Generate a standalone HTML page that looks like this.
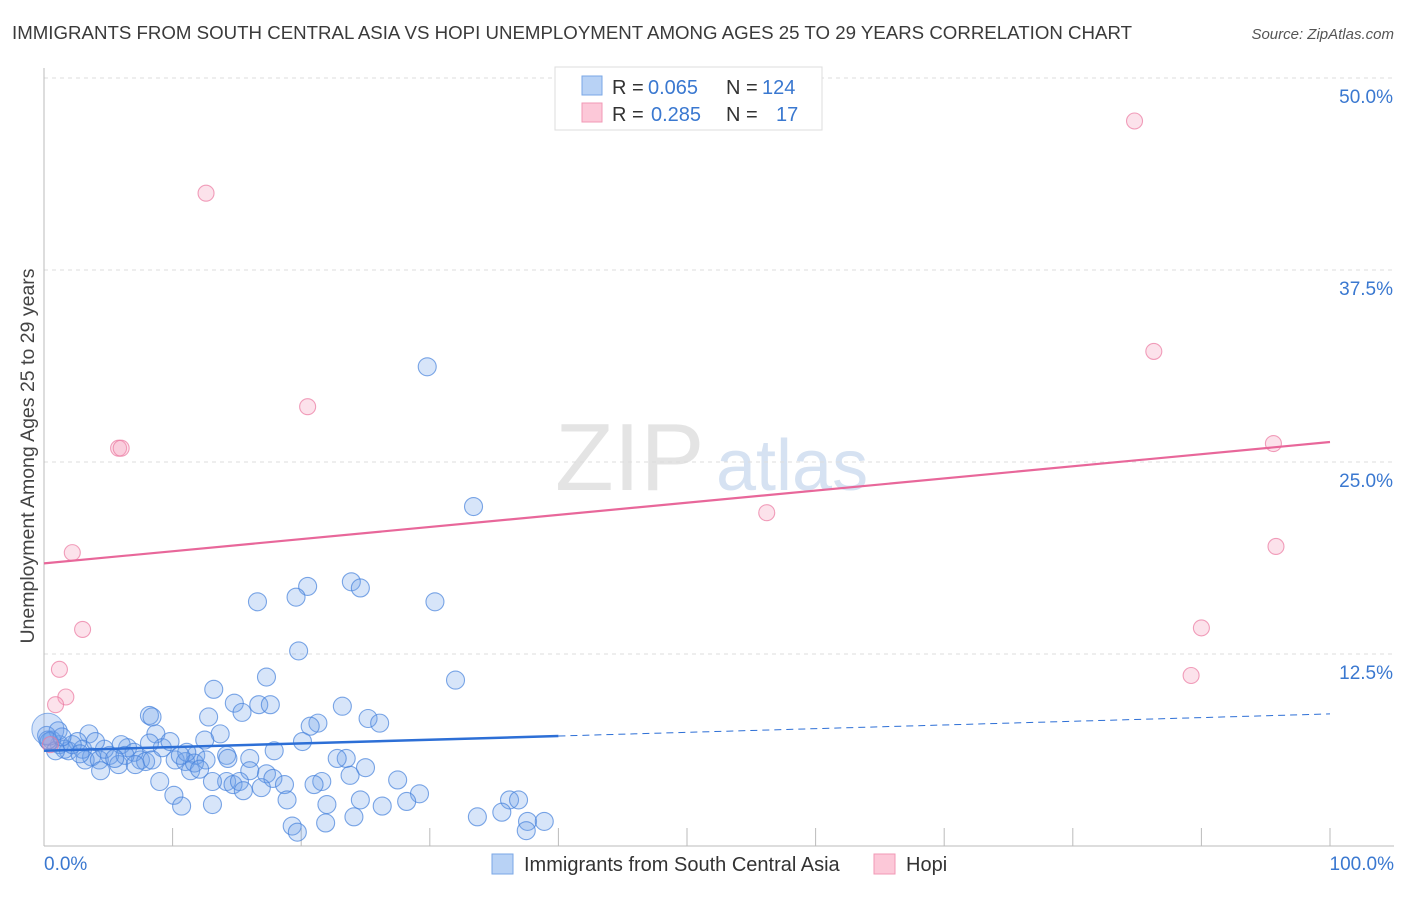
<!DOCTYPE html>
<html><head><meta charset="utf-8"><style>
body{margin:0;background:#fff;font-family:"Liberation Sans",sans-serif;}
svg text{font-family:"Liberation Sans",sans-serif;}
</style></head><body>
<svg id="chart" width="1406" height="892" xmlns="http://www.w3.org/2000/svg">
<text x="12" y="39" font-size="18.6" fill="#3a3a3a" textLength="1120" lengthAdjust="spacingAndGlyphs">IMMIGRANTS FROM SOUTH CENTRAL ASIA VS HOPI UNEMPLOYMENT AMONG AGES 25 TO 29 YEARS CORRELATION CHART</text>
<text x="1394" y="39" font-size="15" fill="#555" text-anchor="end" font-style="italic">Source: ZipAtlas.com</text>
<text x="555" y="490" font-size="96" fill="#e4e4e4" font-family="Liberation Serif">ZIP</text>
<text x="716" y="490" font-size="72" fill="#d6e2f2">atlas</text>
<g id="grid"></g>
<g id="axes"></g>
<g id="marks"></g>
<text transform="translate(34,456) rotate(-90)" font-size="19.5" fill="#444" text-anchor="middle">Unemployment Among Ages 25 to 29 years</text>
<g>
<rect x="555" y="67" width="267" height="63" fill="#fff" stroke="#ddd"/>
<rect x="582" y="76" width="20" height="19" fill="#b8d2f5" stroke="#7aa7e6"/>
<rect x="582" y="103" width="20" height="19" fill="#fcc8d8" stroke="#f298b6"/>
<text x="612" y="94" font-size="20" fill="#333">R =</text>
<text x="648" y="94" font-size="20" fill="#3a78d0">0.065</text>
<text x="726" y="94" font-size="20" fill="#333">N =</text>
<text x="762" y="94" font-size="20" fill="#3a78d0">124</text>
<text x="612" y="121" font-size="20" fill="#333">R =</text>
<text x="651" y="121" font-size="20" fill="#3a78d0">0.285</text>
<text x="726" y="121" font-size="20" fill="#333">N =</text>
<text x="776" y="121" font-size="20" fill="#3a78d0">17</text>
</g>
<g>
<rect x="492" y="854" width="21" height="20" fill="#b8d2f5" stroke="#7aa7e6"/>
<text x="524" y="871" font-size="20" fill="#333">Immigrants from South Central Asia</text>
<rect x="874" y="854" width="21" height="20" fill="#fcc8d8" stroke="#f298b6"/>
<text x="906" y="871" font-size="20" fill="#333">Hopi</text>
</g>
</svg>
<script>
const yTicks=[12.5,25,37.5,50];
const yTickLabels=["12.5%","25.0%","37.5%","50.0%"];
const xTickLabels=["0.0%","100.0%"];
const blueX=[29.8,33.4,23.9,24.6,20.5,19.6,16.6,30.4,19.8,17.3,32,13.2,14.8,12.8,8.2,8.4,16.7,17.6,23.2,15.4,25.2,26.1,13.7,21.3,20.7,3.5,8.7,12.5,20.1,17.9,16,14.2,23.5,22.8,11.8,10.2,11,25,23.8,21.6,21,17.3,17.8,16,11.4,11.7,14.2,14.7,15.2,16.9,18.7,27.5,10.1,13.1,15.5,29.2,28.2,24.6,10.7,13.1,18.9,22,26.3,36.2,36.9,35.6,33.7,24.1,21.9,19.3,19.7,37.6,38.9,37.5,7.5,5.1,5.8,6.5,3.7,1.2,1.9,2.6,0.6,1.1,1.6,3.2,4.3,6,7,9.2,11.1,9.8,14.3,12.6,3,4.7,4,7.9,4.4,6.3,9,5.5,0.2,0.4,0.9,2.2,7.1,8.4,10.6,12.1,8.2,0.3,1.4,2.8];
const blueY=[31.2,22.1,17.2,16.8,16.9,16.2,15.9,15.9,12.7,11,10.8,10.2,9.3,8.4,8.5,8.4,9.2,9.2,9.1,8.7,8.3,8,7.3,8,7.8,7.3,7.3,6.9,6.8,6.2,5.7,5.9,5.7,5.7,5.9,5.6,5.5,5.1,4.6,4.2,4,4.7,4.4,4.9,4.9,5.4,4.2,4,4.2,3.8,4,4.3,3.3,4.2,3.6,3.4,2.9,3,2.6,2.7,3,2.7,2.6,3,3,2.2,1.9,1.9,1.5,1.3,0.9,1.6,1.6,1.0,5.6,5.9,5.3,6.4,5.8,6.6,6.2,6.8,6.9,7.5,6.3,5.6,5.6,6.6,6.1,6.4,6.1,6.8,5.7,5.6,6.3,6.3,6.8,5.5,4.9,5.9,4.2,5.7,7.2,6.8,6.2,6.6,5.3,5.6,5.9,5.0,6.7,6.9,7.1,6.0];
const hopiX=[12.6,5.8,6,20.5,2.2,3,1.2,1.7,0.9,0.5,84.8,86.3,56.2,95.6,95.8,90,89.2];
const hopiY=[42.5,25.9,25.9,28.6,19.1,14.1,11.5,9.7,9.2,6.6,47.2,32.2,21.7,26.2,19.5,14.2,11.1];
const blueTrend=[6.2,8.6];
const hopiTrend=[18.4,26.3];
const X0=44,X1=1330,Y0=846,Y1=78;
const sx=v=>X0+(X1-X0)*v/100;
const sy=v=>Y0-(Y0-Y1)*v/50;
const NS="http://www.w3.org/2000/svg";
function mk(tag,attrs,parent){const e=document.createElementNS(NS,tag);for(const k in attrs)e.setAttribute(k,attrs[k]);parent.appendChild(e);return e;}
const grid=document.getElementById('grid'),axes=document.getElementById('axes'),marks=document.getElementById('marks');
yTicks.forEach((t,i)=>{
  const l=mk('line',{x1:X0,x2:1394,y1:sy(t),y2:sy(t),stroke:'#ddd','stroke-dasharray':'4,4'},grid);
  
  
  const tx=mk('text',{x:1393,y:sy(t)+25,'font-size':19,fill:'#3a78d0','text-anchor':'end'},axes);
  tx.textContent=yTickLabels[i];
  
  
});
const ax=mk('line',{x1:X0,x2:1394,y1:Y0,y2:Y0,stroke:'#bbb'},axes);


const ay=mk('line',{x1:X0,x2:X0,y1:68,y2:Y0,stroke:'#bbb'},axes);


for(let i=1;i<=10;i++){const t=mk('line',{x1:sx(i*10),x2:sx(i*10),y1:Y0-18,y2:Y0,stroke:'#bbb'},axes);
  
  }
[[0,'start',44],[100,'end',1394]].forEach((p,i)=>{const t=mk('text',{x:p[2],y:870,'font-size':19,fill:'#3a78d0','text-anchor':p[1]},axes);t.textContent=xTickLabels[i];
  
  });
blueX.forEach((x,i)=>{const c=mk('circle',{cx:sx(x),cy:sy(blueY[i]),r:9,fill:'rgba(110,160,235,0.28)',stroke:'rgba(70,130,220,0.7)','stroke-width':1.1},marks);
  
  });
const big=mk('circle',{cx:sx(0.3),cy:sy(7.6),r:16,fill:'rgba(110,160,235,0.3)',stroke:'rgba(70,130,220,0.6)'},marks);


hopiX.forEach((x,i)=>{const c=mk('circle',{cx:sx(x),cy:sy(hopiY[i]),r:8,fill:'rgba(245,160,190,0.3)',stroke:'rgba(235,120,160,0.7)','stroke-width':1.1},marks);
  
  });
const bAt=v=>blueTrend[0]+(blueTrend[1]-blueTrend[0])*v/100;
const hl=mk('line',{x1:sx(0),y1:sy(hopiTrend[0]),x2:sx(100),y2:sy(hopiTrend[1]),stroke:'#e8679a','stroke-width':2.2},marks);


const bl=mk('line',{x1:sx(0),y1:sy(bAt(0)),x2:sx(40),y2:sy(bAt(40)),stroke:'#2d6fd6','stroke-width':2.5},marks);


const bd=mk('line',{x1:sx(40),y1:sy(bAt(40)),x2:sx(100),y2:sy(bAt(100)),stroke:'#2d6fd6','stroke-width':1,'stroke-dasharray':'7,5'},marks);


</script>
</body></html>
